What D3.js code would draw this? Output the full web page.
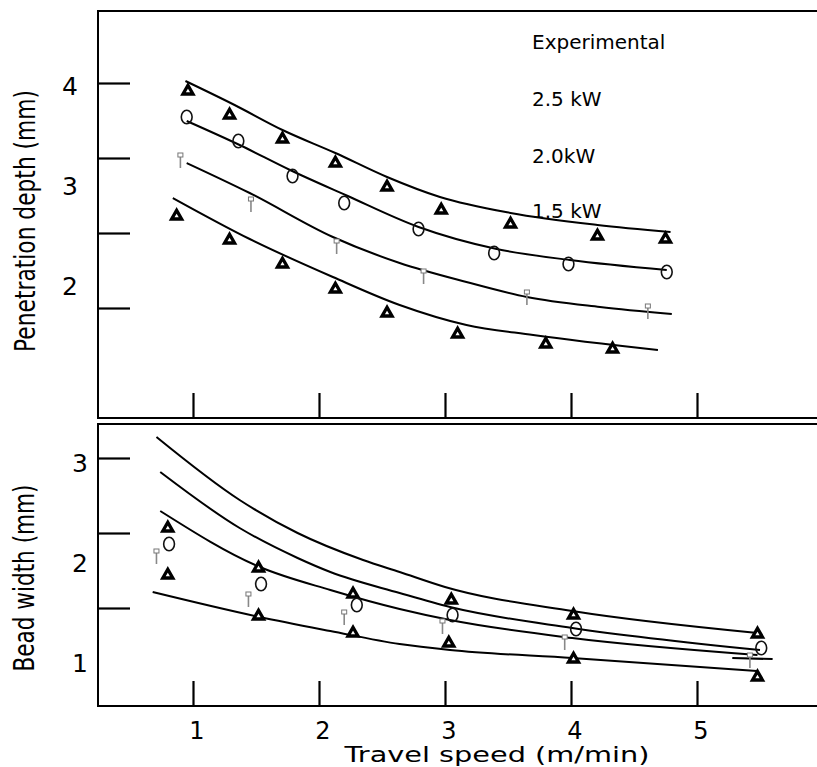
<!DOCTYPE html>
<html><head><meta charset="utf-8">
<script src="https://cdn.jsdelivr.net/npm/d3@7"></script>
<style>body{margin:0;background:#fff}svg{display:block}</style>
</head><body><svg id="c" width="817" height="767"></svg>
<script>
// ---------- data ----------
const xTickValues = [1, 2, 3, 4, 5];
const topYLabels = [4, 3, 2];
const topYTickMarks = [4, 3.25, 2.5, 1.75];
const botYLabels = [3, 2, 1];
const botYTickMarks = [3, 2.25, 1.5];
const legendLabels = ["Experimental", "2.5 kW", "2.0kW", "1.5 kW"];
const xTitle = "Travel speed (m/min)";
const topYTitle = "Penetration depth (mm)";
const botYTitle = "Bead width (mm)";

// top panel: penetration depth, model curves
const topCurve25 = [[0.94,4.02],[1.33,3.78],[1.71,3.53],[2.13,3.30],[2.54,3.06],[2.96,2.86],[3.52,2.70],[4.21,2.58],[4.79,2.51]];
const topCurve20 = [[0.95,3.62],[1.37,3.38],[1.77,3.13],[2.21,2.88],[2.79,2.56],[3.41,2.34],[3.99,2.23],[4.76,2.13]];
const topCurve15 = [[0.95,3.20],[1.45,2.90],[2.11,2.46],[2.64,2.20],[3.17,2.01],[3.65,1.86],[4.23,1.76],[4.80,1.69]];
const topCurveLow = [[0.84,2.85],[1.45,2.44],[2.11,2.06],[2.64,1.78],[3.17,1.58],[3.70,1.48],[4.69,1.33]];
// top panel experimental points
const topTriUpperX = [0.96,1.29,1.71,2.13,2.54,2.97,3.52,4.21,4.75];
const topTriUpperY = [3.93,3.69,3.45,3.21,2.97,2.74,2.60,2.48,2.45];
const topCircleX = [0.95,1.36,1.79,2.20,2.79,3.39,3.98,4.76];
const topCircleY = [3.66,3.42,3.07,2.80,2.54,2.30,2.19,2.11];
const topPinX = [0.90,1.46,2.14,2.83,3.65,4.61];
const topPinY = [3.28,2.84,2.42,2.12,1.91,1.77];
const topTriLowerX = [0.87,1.29,1.71,2.13,2.54,3.10,3.80,4.33];
const topTriLowerY = [2.68,2.44,2.20,1.95,1.71,1.50,1.40,1.35];

// bottom panel: bead width, model curves
const botCurve1 = [[0.71,3.21],[1.37,2.58],[1.83,2.25],[2.35,1.98],[2.64,1.86],[3.00,1.71],[4.01,1.47],[5.48,1.25]];
const botCurve2 = [[0.74,2.86],[1.37,2.30],[1.83,2.00],[2.09,1.86],[2.64,1.65],[3.04,1.51],[4.01,1.30],[5.50,1.08]];
const botCurve3 = [[0.74,2.47],[1.53,1.91],[2.09,1.68],[2.64,1.49],[3.04,1.38],[4.01,1.20],[5.48,1.03]];
const botCurve4 = [[0.68,1.66],[1.53,1.41],[2.09,1.27],[2.64,1.14],[3.04,1.08],[4.01,1.00],[5.48,0.87]];
const botBar = [[5.28,1.00],[5.60,0.99]];
// bottom panel experimental points
const botTriUpperX = [0.80,1.52,2.27,3.05,4.02,5.48];
const botTriUpperY = [2.31,1.91,1.65,1.59,1.44,1.25];
const botCircleX = [0.81,1.54,2.30,3.06,4.04,5.51];
const botCircleY = [2.14,1.74,1.53,1.43,1.29,1.10];
const botPinX = [0.71,1.44,2.20,2.98,3.95,5.42];
const botPinY = [2.07,1.64,1.46,1.37,1.21,1.03];
const botTriLowerX = [0.80,1.52,2.27,3.03,4.02,5.48];
const botTriLowerY = [1.84,1.43,1.26,1.16,1.00,0.82];

// ---------- drawing ----------
const FONT = "'DejaVu Sans', Verdana, sans-serif";
const svg = d3.select("#c");
const x = d3.scaleLinear().domain([1, 5]).range([193, 697]);
const yTop = d3.scaleLinear().domain([4, 0.65]).range([83, 418]);
const yBot = d3.scaleLinear().domain([3, 0.52]).range([458, 706]);

function frame(top, bottom) {
  svg.append("path")
    .attr("d", `M817,${top}H98V${bottom}H817`)
    .attr("fill", "none").attr("stroke", "#000").attr("stroke-width", 2);
}
frame(11, 418);
frame(424, 706);

function styleTicks(g) {
  g.select(".domain").remove();
  g.selectAll("line").attr("stroke", "#000").attr("stroke-width", 2.2);
}
// y tick marks (inward)
svg.append("g").attr("transform", "translate(98,0)")
  .call(d3.axisLeft(yTop).tickValues(topYTickMarks).tickSize(-32).tickFormat(""))
  .call(styleTicks);
svg.append("g").attr("transform", "translate(98,0)")
  .call(d3.axisLeft(yBot).tickValues(botYTickMarks).tickSize(-32).tickFormat(""))
  .call(styleTicks);
// x tick marks (inward)
svg.append("g").attr("transform", "translate(0,418)")
  .call(d3.axisBottom(x).tickValues(xTickValues).tickSize(-25).tickFormat(""))
  .call(styleTicks);
svg.append("g").attr("transform", "translate(0,706)")
  .call(d3.axisBottom(x).tickValues(xTickValues).tickSize(-25).tickFormat(""))
  .call(styleTicks);

// tick labels
svg.append("g").selectAll("text").data(topYLabels).join("text")
  .attr("x", 70).attr("y", d => yTop(d) + 12)
  .attr("text-anchor", "middle").attr("font-family", FONT).attr("font-size", 25)
  .text(d => d);
svg.append("g").selectAll("text").data(botYLabels).join("text")
  .attr("x", 80).attr("y", d => yBot(d) + 14)
  .attr("text-anchor", "middle").attr("font-family", FONT).attr("font-size", 25)
  .text(d => d);
svg.append("g").selectAll("text").data(xTickValues).join("text")
  .attr("x", d => x(d) + 4).attr("y", 739)
  .attr("text-anchor", "middle").attr("font-family", FONT).attr("font-size", 24)
  .text(d => d);

// titles
svg.append("text").attr("x", 497).attr("y", 762)
  .attr("text-anchor", "middle").attr("font-family", FONT).attr("font-size", 21)
  .attr("textLength", 305).attr("lengthAdjust", "spacingAndGlyphs")
  .text(xTitle);
svg.append("text").attr("transform", "translate(35,221) rotate(-90)")
  .attr("text-anchor", "middle").attr("font-family", FONT).attr("font-size", 29)
  .attr("textLength", 262).attr("lengthAdjust", "spacingAndGlyphs")
  .text(topYTitle);
svg.append("text").attr("transform", "translate(34,578) rotate(-90)")
  .attr("text-anchor", "middle").attr("font-family", FONT).attr("font-size", 29)
  .attr("textLength", 187).attr("lengthAdjust", "spacingAndGlyphs")
  .text(botYTitle);

// legend text
const legendY = [49, 106, 163, 218];
svg.append("g").selectAll("text").data(legendLabels).join("text")
  .attr("x", 532).attr("y", (d, i) => legendY[i])
  .attr("font-family", FONT).attr("font-size", 20)
  .text(d => d);

// curves
function drawCurve(pts, ys, w) {
  const line = d3.line().x(d => x(d[0])).y(d => ys(d[1])).curve(d3.curveMonotoneX);
  svg.append("path").datum(pts).attr("d", line)
    .attr("fill", "none").attr("stroke", "#000").attr("stroke-width", w || 2);
}
[topCurve25, topCurve20, topCurve15, topCurveLow].forEach(c => drawCurve(c, yTop));
[botCurve1, botCurve2, botCurve3, botCurve4].forEach(c => drawCurve(c, yBot));
drawCurve(botBar, yBot, 2.2);

// markers
const zip = (a, b) => a.map((v, i) => [v, b[i]]);
function triangles(xs, yv, ys) {
  svg.append("g").selectAll("path").data(zip(xs, yv)).join("path")
    .attr("transform", d => `translate(${x(d[0])},${ys(d[1])})`)
    .attr("d", "M0,-4.6L5,4L-5,4Z")
    .attr("fill", "#fff").attr("stroke", "#000").attr("stroke-width", 3.3)
    .attr("stroke-linejoin", "miter");
}
function circles(xs, yv, ys) {
  svg.append("g").selectAll("ellipse").data(zip(xs, yv)).join("ellipse")
    .attr("cx", d => x(d[0])).attr("cy", d => ys(d[1]))
    .attr("rx", 5.4).attr("ry", 6.8)
    .attr("fill", "none").attr("stroke", "#111").attr("stroke-width", 1.6);
}
function pins(xs, yv, ys) {
  const g = svg.append("g").selectAll("g").data(zip(xs, yv)).join("g")
    .attr("transform", d => `translate(${x(d[0])},${ys(d[1])})`);
  g.append("line").attr("x1", 0).attr("x2", 0).attr("y1", 2).attr("y2", 13)
    .attr("stroke", "#888").attr("stroke-width", 1.6);
  g.append("rect").attr("x", -2.5).attr("y", -2).attr("width", 5).attr("height", 4)
    .attr("fill", "#fff").attr("stroke", "#777").attr("stroke-width", 1);
}
triangles(topTriUpperX, topTriUpperY, yTop);
circles(topCircleX, topCircleY, yTop);
pins(topPinX, topPinY, yTop);
triangles(topTriLowerX, topTriLowerY, yTop);

triangles(botTriUpperX, botTriUpperY, yBot);
circles(botCircleX, botCircleY, yBot);
pins(botPinX, botPinY, yBot);
triangles(botTriLowerX, botTriLowerY, yBot);
</script>
</body></html>
